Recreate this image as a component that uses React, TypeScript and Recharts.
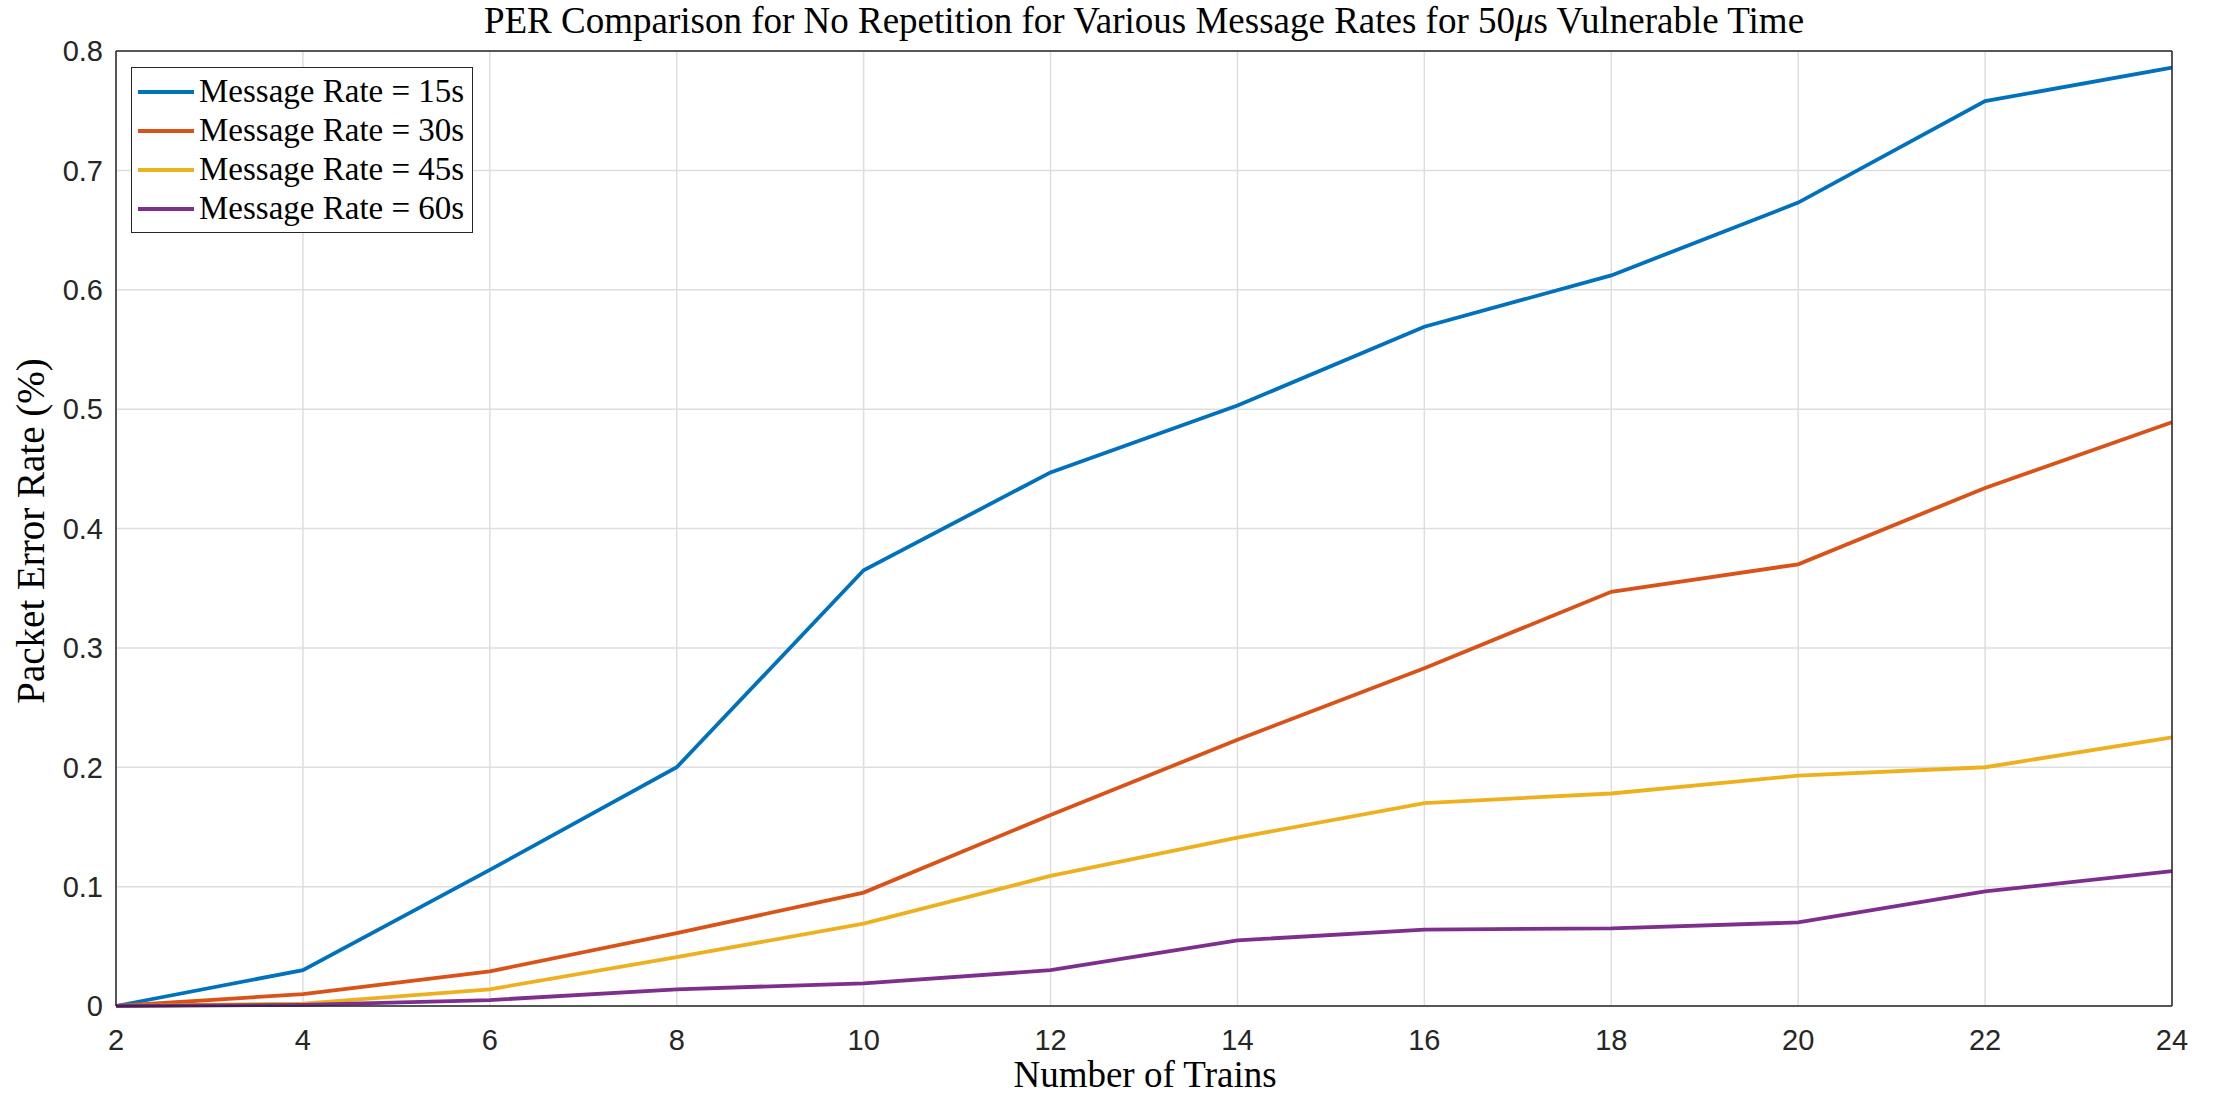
import { LineChart, Line, XAxis, YAxis, CartesianGrid, Legend } from "recharts";

// number of trains on the x axis
const trains = [2, 4, 6, 8, 10, 12, 14, 16, 18, 20, 22, 24];

// packet error rate per message rate
const rate15 = [0, 0.03, 0.114, 0.2, 0.365, 0.447, 0.503, 0.569, 0.612, 0.673, 0.758, 0.786];
const rate30 = [0, 0.01, 0.029, 0.061, 0.095, 0.16, 0.223, 0.283, 0.347, 0.37, 0.434, 0.489];
const rate45 = [0, 0.002, 0.014, 0.041, 0.069, 0.109, 0.141, 0.17, 0.178, 0.193, 0.2, 0.225];
const rate60 = [0, 0.001, 0.005, 0.014, 0.019, 0.03, 0.055, 0.064, 0.065, 0.07, 0.096, 0.113];

const xTicks = [2, 4, 6, 8, 10, 12, 14, 16, 18, 20, 22, 24];
const yTicks = [0, 0.1, 0.2, 0.3, 0.4, 0.5, 0.6, 0.7, 0.8];

const seriesNames = [
  "Message Rate = 15s",
  "Message Rate = 30s",
  "Message Rate = 45s",
  "Message Rate = 60s",
];

const data = trains.map((n, i) => ({
  n,
  r15: rate15[i],
  r30: rate30[i],
  r45: rate45[i],
  r60: rate60[i],
}));

const AXIS = "#262626";
const SERIF = "'Liberation Serif', 'Times New Roman', serif";
const SANS = "'Liberation Sans', Arial, sans-serif";

const renderLegend = (props: any) => {
  const { payload } = props;
  return (
    <div
      style={{
        border: `1.5px solid ${AXIS}`,
        background: "#fff",
        width: 342,
        padding: "4px 0 4px 0",
        boxSizing: "border-box",
      }}
    >
      {payload.map((entry: any, i: number) => (
        <div
          key={`leg-${i}`}
          style={{ display: "flex", alignItems: "center", height: 39 }}
        >
          <div
            style={{
              width: 56,
              height: 4,
              background: entry.color,
              marginLeft: 6,
              marginRight: 5,
            }}
          />
          <span
            style={{
              fontFamily: SERIF,
              fontSize: 33,
              color: "#000",
              lineHeight: "39px",
              whiteSpace: "nowrap",
            }}
          >
            {entry.value}
          </span>
        </div>
      ))}
    </div>
  );
};

export default function App() {
  const tickStyle = { fontFamily: SANS, fontSize: 29, fill: AXIS };
  const edge = { stroke: AXIS, strokeWidth: 1.5 };
  return (
    <div
      style={{
        position: "absolute",
        left: 0,
        top: 0,
        width: 2216,
        height: 1095,
        background: "#fff",
      }}
    >
      <LineChart
        width={2216}
        height={1095}
        data={data}
        margin={{ top: 51, right: 44, bottom: 88, left: 115 }}
      >
        <CartesianGrid xAxisId="b" yAxisId="l" stroke="#dedede" strokeWidth={1.5} />
        <XAxis
          xAxisId="b"
          dataKey="n"
          type="number"
          domain={[2, 24]}
          ticks={xTicks}
          height={1}
          tickSize={0}
          tickMargin={23}
          tickLine={false}
          axisLine={edge}
          tick={tickStyle}
          interval={0}
        />
        <XAxis
          xAxisId="b2"
          dataKey="n"
          type="number"
          domain={[2, 24]}
          ticks={xTicks}
          height={1}
          mirror
          tickSize={20}
          tick={false}
          axisLine={false}
          tickLine={edge}
          interval={0}
        />
        <XAxis
          xAxisId="t"
          orientation="top"
          dataKey="n"
          type="number"
          domain={[2, 24]}
          ticks={xTicks}
          height={1}
          mirror
          tickSize={20}
          tick={false}
          axisLine={edge}
          tickLine={edge}
          interval={0}
        />
        <YAxis
          yAxisId="l"
          type="number"
          domain={[0, 0.8]}
          ticks={yTicks}
          width={1}
          tickSize={0}
          tickMargin={13}
          tickLine={false}
          axisLine={edge}
          tick={tickStyle}
          interval={0}
        />
        <YAxis
          yAxisId="l2"
          type="number"
          domain={[0, 0.8]}
          ticks={yTicks}
          width={1}
          mirror
          tickSize={20}
          tick={false}
          axisLine={false}
          tickLine={edge}
          interval={0}
        />
        <YAxis
          yAxisId="r"
          orientation="right"
          type="number"
          domain={[0, 0.8]}
          ticks={yTicks}
          width={1}
          mirror
          tickSize={20}
          tick={false}
          axisLine={edge}
          tickLine={edge}
          interval={0}
        />
        <Line xAxisId="b" yAxisId="l" type="linear" dataKey="r15" name={seriesNames[0]} stroke="#0072BD" strokeWidth={3.8} dot={false} isAnimationActive={false} />
        <Line xAxisId="b" yAxisId="l" type="linear" dataKey="r30" name={seriesNames[1]} stroke="#D95319" strokeWidth={3.8} dot={false} isAnimationActive={false} />
        <Line xAxisId="b" yAxisId="l" type="linear" dataKey="r45" name={seriesNames[2]} stroke="#EDB120" strokeWidth={3.8} dot={false} isAnimationActive={false} />
        <Line xAxisId="b" yAxisId="l" type="linear" dataKey="r60" name={seriesNames[3]} stroke="#7E2F8E" strokeWidth={3.8} dot={false} isAnimationActive={false} />
        <Legend
          content={renderLegend}
          layout="vertical"
          align="center"
          verticalAlign="middle"
          wrapperStyle={{ left: 131, top: 67, width: 342 }}
        />
      </LineChart>
      <svg
        width={2216}
        height={1095}
        style={{ position: "absolute", left: 0, top: 0, pointerEvents: "none" }}
      >
        <text x={1144} y={33} textAnchor="middle" fontFamily={SERIF} fontSize={37} fill="#000">
          PER Comparison for No Repetition for Various Message Rates for 50
          <tspan fontStyle="italic">μ</tspan>s Vulnerable Time
        </text>
        <text x={1145} y={1087} textAnchor="middle" fontFamily={SERIF} fontSize={37} fill="#000">
          Number of Trains
        </text>
        <text
          x={44}
          y={531}
          textAnchor="middle"
          fontFamily={SERIF}
          fontSize={39}
          fill="#000"
          transform="rotate(-90 44 531)"
        >
          Packet Error Rate (%)
        </text>
      </svg>
    </div>
  );
}
